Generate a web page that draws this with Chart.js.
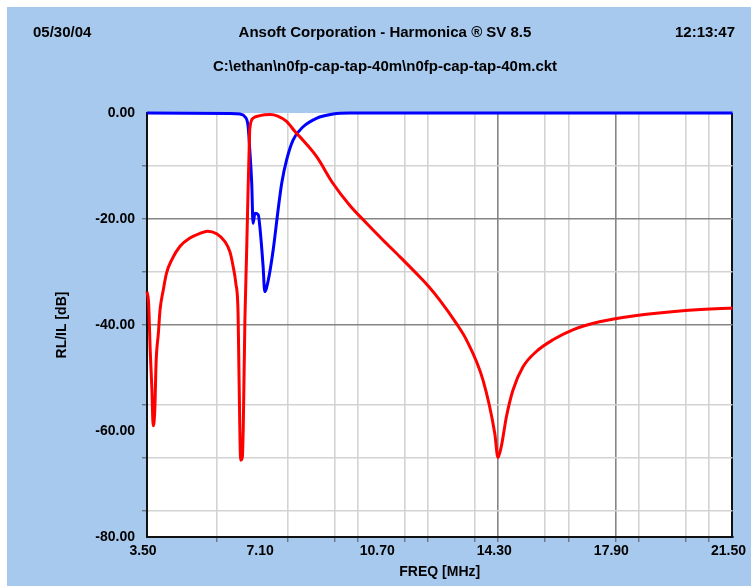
<!DOCTYPE html>
<html>
<head>
  <title>RL/IL chart</title>
  <script src="https://cdn.jsdelivr.net/npm/chart.js"></script>
  <style>
    body { margin: 0; background: #fff; }
  </style>
</head>
<body>
  <canvas id="rlChart" width="751" height="586"></canvas>

  <script>
    // header texts
    const dateText = '05/30/04';
    const timeText = '12:13:47';
    const titleText = 'Ansoft Corporation - Harmonica \u00AE SV 8.5';
    const fileText = 'C:\\ethan\\n0fp-cap-tap-40m\\n0fp-cap-tap-40m.ckt';

    // red trace (RL) - freq in MHz, level in dB
    const rlFreq = [3.50, 3.55, 3.60, 3.65, 3.69, 3.74, 3.78, 3.85, 3.90, 4.00, 4.10, 4.26, 4.51, 4.82, 5.13, 5.36,
      5.64, 5.90, 6.05, 6.15, 6.23, 6.30, 6.33, 6.38, 6.43, 6.46, 6.51, 6.56, 6.61, 6.64, 6.66, 6.76, 6.97,
      7.28, 7.52, 7.79, 8.05, 8.20, 8.71, 9.22, 9.73, 10.25, 10.76, 11.27, 11.88, 12.14, 12.50, 13.01, 13.32,
      13.83, 14.19, 14.29, 14.39, 14.55, 14.75, 15.06, 15.47, 15.98, 16.59, 17.41, 18.44, 19.97, 21.50];
    const rlDb = [-33.7, -36, -45, -52, -59, -56, -47, -41.5, -37.2, -33.4, -30.2, -27.7, -25.2, -23.6, -22.7, -22.3,
      -22.8, -24.3, -26.2, -29, -32.1, -37.8, -50, -65.5, -65, -59, -39, -27, -14, -7, -3, -1.0, -0.5,
      -0.3, -0.6, -1.6, -3.5, -4.5, -8.2, -13.3, -17.4, -20.8, -24, -27.1, -30.9, -32.6, -35.3, -39.7, -42.8,
      -50.4, -60.4, -65.0, -63, -57.3, -52.3, -47.9, -45, -42.8, -40.9, -39.4, -38.3, -37.3, -36.8];

    // blue trace (IL)
    const ilFreq = [3.50, 6.05, 6.36, 6.51, 6.61, 6.66, 6.72, 6.76, 6.82, 6.92, 6.97, 7.07, 7.12, 7.23, 7.38,
      7.53, 7.64, 7.79, 7.99, 8.30, 8.71, 9.22, 9.73, 21.50];
    const ilDb = [0, -0.1, -0.2, -0.7, -2.6, -7, -13.3, -20.8, -18.9, -19.2, -21.5, -29, -33.7, -31.5, -25.8,
      -18.3, -13.3, -8.9, -5.1, -2.6, -1.0, -0.2, 0, 0];

    // axis ticks
    const freqLabels = [3.5, 7.1, 10.7, 14.3, 17.9, 21.5];
    const freqGrid = [5.66, 7.82, 9.26, 9.98, 11.42, 12.14, 13.58, 14.3, 15.74, 16.46, 17.9, 18.62, 20.06, 20.78];
    const freqGridMajor = [14.3, 17.9];
    const dbLabels = [0, -20, -40, -60, -80];
    const dbGrid = [-10, -20, -30, -40, -55, -65, -75];
    const dbGridMajor = [-20, -40];

    const font = { family: '"Liberation Sans", Arial, sans-serif', size: 14, weight: 'bold' };
    const headFont = { family: '"Liberation Sans", Arial, sans-serif', size: 15, weight: 'bold' };

    function mergeTicks(a, b) {
      const vals = Array.from(new Set(a.concat(b))).sort((p, q) => p - q);
      return vals.map(v => ({ value: v }));
    }

    function gridColor(v, major, minor) {
      if (major.includes(v)) return '#858585';
      if (minor.includes(v)) return '#d3d3d3';
      return 'rgba(0,0,0,0)';
    }

    // background, white plot area, date and time in the corners
    const frame = {
      id: 'frame',
      beforeDraw(chart) {
        const { ctx, chartArea: a, width, height } = chart;
        ctx.save();
        ctx.fillStyle = '#ffffff';
        ctx.fillRect(0, 0, width, height);
        ctx.fillStyle = '#a7c9ee';
        ctx.fillRect(7, 7, width - 7, height - 7);
        ctx.fillStyle = '#ffffff';
        ctx.fillRect(a.left, a.top, a.right - a.left, a.bottom - a.top);
        ctx.restore();
      },
      afterDraw(chart) {
        const ctx = chart.ctx;
        ctx.save();
        ctx.font = 'bold 15px "Liberation Sans", Arial, sans-serif';
        ctx.fillStyle = '#000';
        ctx.textBaseline = 'middle';
        ctx.textAlign = 'left';
        ctx.fillText(dateText, 33, 33);
        ctx.textAlign = 'right';
        ctx.fillText(timeText, 735, 33);
        ctx.restore();
      }
    };

    const ctx = document.getElementById('rlChart').getContext('2d');
    new Chart(ctx, {
      type: 'line',
      data: {
        datasets: [
          {
            label: 'RL',
            data: rlFreq.map((f, i) => ({ x: f, y: rlDb[i] })),
            borderColor: '#ff0000',
            borderWidth: 3,
            pointRadius: 0,
            cubicInterpolationMode: 'monotone',
            clip: false
          },
          {
            label: 'IL',
            data: ilFreq.map((f, i) => ({ x: f, y: ilDb[i] })),
            borderColor: '#0000ff',
            borderWidth: 3,
            pointRadius: 0,
            cubicInterpolationMode: 'monotone',
            clip: false
          }
        ]
      },
      options: {
        responsive: false,
        animation: false,
        devicePixelRatio: 1,
        layout: { padding: { top: 0, left: 37, right: 18, bottom: 0 } },
        plugins: {
          legend: { display: false },
          tooltip: { enabled: false },
          title: {
            display: true, text: titleText, color: '#000', font: headFont,
            padding: { top: 24, bottom: 16 }
          },
          subtitle: {
            display: true, text: fileText, color: '#000', font: headFont,
            padding: { top: 0, bottom: 37 }
          }
        },
        scales: {
          x: {
            type: 'linear',
            min: 3.5,
            max: 21.5,
            afterBuildTicks: s => { s.ticks = mergeTicks(freqLabels, freqGrid); },
            afterFit: s => { s.height = 49; },
            ticks: {
              autoSkip: false, maxRotation: 0, padding: 1, labelOffset: -4,
              color: '#000', font,
              callback: v => freqLabels.includes(v) ? v.toFixed(2) : ''
            },
            grid: {
              color: c => c.tick.value === 21.5 ? '#111' : gridColor(c.tick.value, freqGridMajor, freqGrid),
              lineWidth: c => c.tick.value === 21.5 ? 2 : 1.6,
              tickColor: c => freqGrid.includes(c.tick.value) ? '#555' : 'rgba(0,0,0,0)',
              tickWidth: 1,
              tickLength: 5
            },
            border: { color: '#111', width: 2 },
            title: {
              display: true, text: 'FREQ [MHz]', color: '#000', font,
              padding: { top: 0, bottom: 5 }
            }
          },
          y: {
            min: -80,
            max: 0,
            afterBuildTicks: s => { s.ticks = mergeTicks(dbLabels, dbGrid); },
            afterFit: s => { s.width = 110; },
            ticks: {
              autoSkip: false, padding: 7, color: '#000', font,
              callback: v => dbLabels.includes(v) ? v.toFixed(2) : ''
            },
            grid: {
              color: c => gridColor(c.tick.value, dbGridMajor, dbGrid),
              lineWidth: 1.6,
              tickColor: c => dbGrid.includes(c.tick.value) ? '#555' : 'rgba(0,0,0,0)',
              tickWidth: 1,
              tickLength: 5
            },
            border: { color: '#111', width: 2 },
            title: {
              display: true, text: 'RL/IL [dB]', color: '#000', font,
              padding: { top: 17, bottom: 0 }
            }
          }
        }
      },
      plugins: [frame]
    });
  </script>
</body>
</html>
